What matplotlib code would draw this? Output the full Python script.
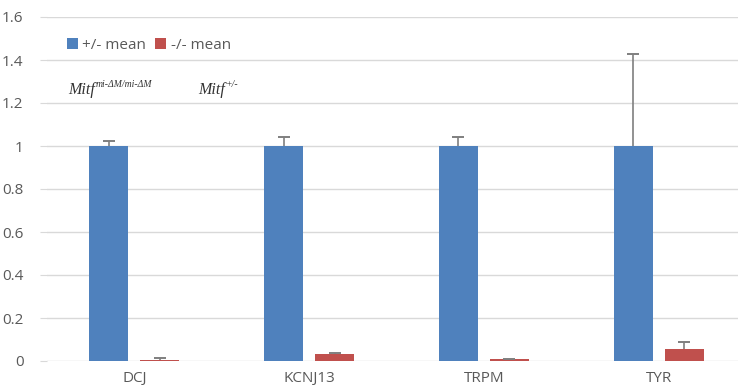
import matplotlib
matplotlib.use("Agg")
import matplotlib.pyplot as plt
import numpy as np

genes = ["DCJ", "KCNJ13", "TRPM", "TYR"]
het_mean = [1.0, 1.0, 1.0, 1.0]
het_err = [0.025, 0.043, 0.043, 0.428]
mut_mean = [0.005, 0.031, 0.007, 0.054]
mut_err = [0.007, 0.008, 0.002, 0.033]
yticks = [0, 0.2, 0.4, 0.6, 0.8, 1, 1.2, 1.4, 1.6]
ytick_labels = ["0", "0.2", "0.4", "0.6", "0.8", "1", "1.2", "1.4", "1.6"]

blue = "#4F81BD"
red = "#C0504D"
grey_text = "#595959"
err_col = "#7F7F7F"

plt.rcParams["font.family"] = ["Open Sans", "DejaVu Sans"]

W, H = 738, 392
fig = plt.figure(figsize=(W / 100, H / 100), dpi=100)
ax = fig.add_axes([47 / W, 31 / H, 699 / W, 344 / H])

x = np.arange(len(genes))
bw = 0.223
off = 0.146
ax.bar(x - off, het_mean, bw, color=blue, zorder=3, label="+/- mean")
ax.bar(x + off, mut_mean, bw, color=red, zorder=3, label="-/- mean")

# one-sided (plus) error bars, Excel style
for xs, m, e in [(x - off, het_mean, het_err), (x + off, mut_mean, mut_err)]:
    m = np.array(m)
    e = np.array(e)
    ax.vlines(xs, m, m + e, color=err_col, linewidth=1.2, zorder=4)
    ax.plot(xs, m + e, linestyle="none", marker="_", markersize=9,
            markeredgewidth=1.4, color=err_col, zorder=4)

ax.set_xlim(-0.5, 3.5)
ax.set_ylim(0, 1.6)
ax.set_yticks(yticks)
ax.set_yticklabels(ytick_labels)
ax.set_xticks(x)
ax.set_xticklabels(genes)
ax.grid(axis="y", color="#D9D9D9", linewidth=1, zorder=0)
for s in ax.spines.values():
    s.set_visible(False)
ax.tick_params(axis="y", length=5, color="#D9D9D9", labelcolor=grey_text,
               labelsize=11, pad=12)
ax.tick_params(axis="x", length=0, labelcolor=grey_text, labelsize=11, pad=7)

ax.legend(loc="upper left", bbox_to_anchor=(64 / W, 1 - 35 / H),
          bbox_transform=fig.transFigure, ncol=2, frameon=False,
          handlelength=0.7, handleheight=0.7, handletextpad=0.3,
          columnspacing=0.6, fontsize=11, labelcolor=grey_text,
          borderaxespad=0, borderpad=0.2)

serif = dict(family="Liberation Serif", style="italic", color="#333333")
t1 = fig.text(68 / W, 1 - 94 / H, "Mitf", fontsize=11.5, va="baseline",
              **serif)
ax.annotate("mi-ΔM/mi-ΔM", xy=(1, 0.55), xycoords=t1, xytext=(0.5, 0),
            textcoords="offset points", fontsize=7, va="bottom", **serif)
t2 = fig.text(198 / W, 1 - 94 / H, "Mitf", fontsize=11.5, va="baseline",
              **serif)
ax.annotate("+/-", xy=(1, 0.55), xycoords=t2, xytext=(0.5, 0),
            textcoords="offset points", fontsize=7, va="bottom", **serif)

fig.savefig("out.png", dpi=100)
